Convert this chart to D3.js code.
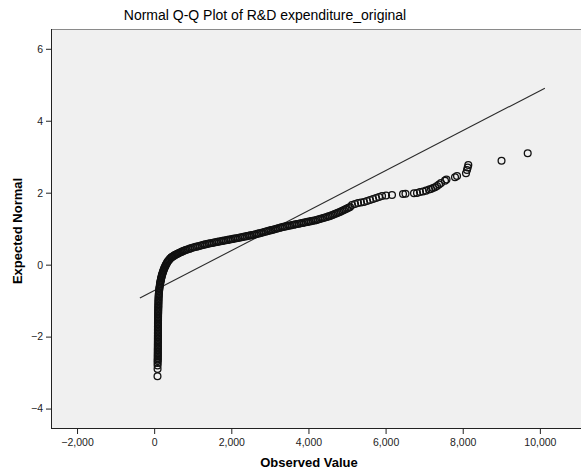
<!DOCTYPE html>
<html lang="en">
<head>
<meta charset="UTF-8">
<title>Normal Q-Q Plot of R&amp;D expenditure_original</title>
<style>
  body { margin: 0; padding: 0; background: #fff; }
  svg text { font-family: Arial, "Liberation Sans", sans-serif; }
  .tick text { font-size: 10.5px; fill: #222; }
  .tick line { stroke: #222; }
  .title { font-size: 14px; fill: #000; }
  .axis-title { font-size: 13px; font-weight: bold; fill: #000; }
  .dot { fill: none; stroke: #111; stroke-width: 1.3; }
</style>
</head>
<body>
<div id="chart"></div>
<script src="https://cdnjs.cloudflare.com/ajax/libs/d3/7.8.5/d3.min.js"></script>
<script>
const observed = [
  86, 88, 89, 90, 91, 92,
  93, 93, 93, 94, 94, 94, 94, 95, 95, 95, 95, 96, 96, 96, 96, 97, 97, 97, 97,
  98, 98, 98, 98, 99, 99, 99, 100, 100, 101, 101, 102, 103, 104, 105, 106, 107,
  108, 109, 110, 111, 112, 113, 115, 117, 119, 122, 125, 129, 133, 138, 143,
  150, 154, 159, 164, 170, 176, 182, 189, 195, 202, 211, 220, 229, 239, 249, 260,
  271, 284, 298, 312, 327, 342, 362, 384, 408, 436,
  451, 470, 492, 516, 541, 567, 593, 618, 643, 675, 707, 739, 771, 803, 836, 880,
  924, 968, 1013, 1058,
  1100, 1145, 1190, 1235, 1280, 1325, 1369, 1414, 1459, 1504, 1549, 1594, 1639,
  1684, 1729, 1774, 1819, 1864, 1909, 1954, 1999, 2044, 2089, 2134, 2179, 2224,
  2269, 2314, 2359, 2404, 2449, 2494, 2539, 2584, 2629, 2674, 2719, 2764, 2809,
  2854, 2899, 2944, 2989, 3034, 3079, 3124, 3169, 3214, 3259, 3304, 3349, 3394,
  3439, 3484, 3529, 3574, 3619, 3664, 3709, 3754, 3799, 3844, 3889, 3934, 3979,
  4024, 4069, 4114, 4159, 4204, 4249, 4294, 4339, 4384, 4429, 4474, 4519, 4559,
  4599, 4639, 4679, 4719, 4759, 4799, 4839, 4879, 4919, 4959, 4999, 5039, 5078,
  5129, 5207, 5285, 5362, 5440, 5518, 5596, 5675, 5753, 5830, 5908, 6012, 6166,
  6452, 6516, 6737, 6815, 6892, 6970, 7048, 7126, 7177, 7229, 7281, 7333, 7385,
  7437, 7540, 7579, 7800, 7852, 8085, 8111, 8129, 8145, 9006, 9685
];
const expected = [
  -3.10, -2.90, -2.80, -2.73, -2.68, -2.64,
  -2.60, -2.56, -2.52, -2.48, -2.44, -2.40, -2.36, -2.32, -2.28, -2.24, -2.20,
  -2.16, -2.12, -2.08, -2.04, -2.00, -1.96, -1.92, -1.88, -1.84, -1.80, -1.76,
  -1.72, -1.68, -1.64, -1.60, -1.56, -1.52, -1.48, -1.44, -1.40, -1.36, -1.32,
  -1.28, -1.24, -1.20, -1.16, -1.12, -1.08, -1.04, -1.00, -0.96, -0.92, -0.88,
  -0.84, -0.80, -0.76, -0.72, -0.68, -0.64, -0.60,
  -0.56, -0.53, -0.50, -0.47, -0.44, -0.41, -0.38, -0.35, -0.32, -0.29, -0.26,
  -0.23, -0.20, -0.17, -0.14, -0.11, -0.08, -0.05, -0.02, 0.01, 0.04, 0.07,
  0.10, 0.13, 0.16, 0.19,
  0.205, 0.22, 0.235, 0.25, 0.265, 0.28, 0.295, 0.31, 0.325, 0.34, 0.355, 0.37,
  0.385, 0.40, 0.415, 0.43, 0.445, 0.46, 0.475, 0.49,
  0.500, 0.513, 0.525, 0.538, 0.550, 0.563, 0.575, 0.585, 0.594, 0.604, 0.613,
  0.623, 0.633, 0.642, 0.652, 0.661, 0.670, 0.679, 0.688, 0.697, 0.706, 0.716,
  0.725, 0.734, 0.743, 0.753, 0.763, 0.773, 0.783, 0.793, 0.803, 0.813, 0.822,
  0.832, 0.843, 0.856, 0.869, 0.882, 0.895, 0.908, 0.920, 0.933, 0.946, 0.959,
  0.972, 0.985, 0.998, 1.011, 1.024, 1.037, 1.050, 1.061, 1.071, 1.080, 1.090,
  1.100, 1.110, 1.120, 1.129, 1.139, 1.149, 1.159, 1.169, 1.179, 1.189, 1.199,
  1.209, 1.219, 1.229, 1.239, 1.252, 1.267, 1.282, 1.297, 1.312, 1.326, 1.341,
  1.354, 1.371, 1.388, 1.405, 1.422, 1.440, 1.457, 1.476, 1.497, 1.519, 1.540,
  1.562, 1.583, 1.604,
  1.659, 1.687, 1.715, 1.729, 1.743, 1.770, 1.798, 1.826, 1.854, 1.882, 1.910,
  1.923, 1.937, 1.965, 1.971, 1.984, 1.993, 2.021, 2.034, 2.057, 2.090, 2.104,
  2.132, 2.151, 2.187, 2.229, 2.271, 2.335, 2.368, 2.429, 2.465, 2.540, 2.632,
  2.701, 2.771, 2.890, 3.096
];

const xTicks = [-2000, 0, 2000, 4000, 6000, 8000, 10000];
const yTicks = [-4, -2, 0, 2, 4, 6];

// reference line: expected = (observed - mean) / sd
const lineMean = 1300;
const lineSd = 1800;
const lineFrom = -370;
const lineTo = 10130;

const w = 581;
const h = 471;

const plotLeft = 51, plotTop = 29, plotBottom = 428, plotRight = 590;

const xScale = d3.scaleLinear()
  .domain([-2675, 11300])
  .range([plotLeft, plotRight]);

const yScale = d3.scaleLinear()
  .domain([-4.54, 6.55])
  .range([plotBottom, plotTop]);

const svg = d3.select('#chart')
  .append('svg')
  .attr('width', w)
  .attr('height', h);

// plot area
svg.append('rect')
  .attr('x', plotLeft)
  .attr('y', plotTop)
  .attr('width', plotRight - plotLeft + 20)
  .attr('height', plotBottom - plotTop)
  .attr('fill', '#f0f0f0');

svg.append('line')
  .attr('x1', plotLeft).attr('x2', w)
  .attr('y1', plotTop + 0.5).attr('y2', plotTop + 0.5)
  .attr('stroke', '#8a8a8a');

// reference line
svg.append('line')
  .attr('x1', xScale(lineFrom))
  .attr('y1', yScale((lineFrom - lineMean) / lineSd))
  .attr('x2', xScale(lineTo))
  .attr('y2', yScale((lineTo - lineMean) / lineSd))
  .attr('stroke', '#2b2b2b')
  .attr('stroke-width', 1.1);

const points = observed.map((x, i) => ({ x: x, y: expected[i] }))
  .filter(d => d.y !== undefined);

svg.selectAll('circle')
  .data(points)
  .enter()
  .append('circle')
  .attr('class', 'dot')
  .attr('cx', d => xScale(d.x))
  .attr('cy', d => yScale(d.y))
  .attr('r', 3.4);

// axes
const xAxis = d3.axisBottom(xScale)
  .tickValues(xTicks)
  .tickFormat(d3.format(','))
  .tickSize(6)
  .tickPadding(5);

const yAxis = d3.axisLeft(yScale)
  .tickValues(yTicks)
  .tickFormat(d3.format('d'))
  .tickSize(5)
  .tickPadding(3);

const gx = svg.append('g')
  .attr('transform', 'translate(0,' + plotBottom + ')')
  .call(xAxis);
gx.select('.domain').remove();

const gy = svg.append('g')
  .attr('transform', 'translate(' + plotLeft + ',0)')
  .call(yAxis);
gy.select('.domain').remove();

svg.append('line')
  .attr('x1', plotLeft + 0.5).attr('x2', plotLeft + 0.5)
  .attr('y1', plotTop).attr('y2', plotBottom + 0.5)
  .attr('stroke', '#222');

svg.append('line')
  .attr('x1', plotLeft).attr('x2', w)
  .attr('y1', plotBottom + 0.5).attr('y2', plotBottom + 0.5)
  .attr('stroke', '#222');

// titles
svg.append('text')
  .attr('class', 'title')
  .attr('x', 265)
  .attr('y', 20)
  .attr('text-anchor', 'middle')
  .text('Normal Q-Q Plot of R&D expenditure_original');

svg.append('text')
  .attr('class', 'axis-title')
  .attr('x', 309)
  .attr('y', 467)
  .attr('text-anchor', 'middle')
  .text('Observed Value');

svg.append('text')
  .attr('class', 'axis-title')
  .attr('transform', 'translate(22,231) rotate(-90)')
  .attr('text-anchor', 'middle')
  .text('Expected Normal');
</script>
</body>
</html>
